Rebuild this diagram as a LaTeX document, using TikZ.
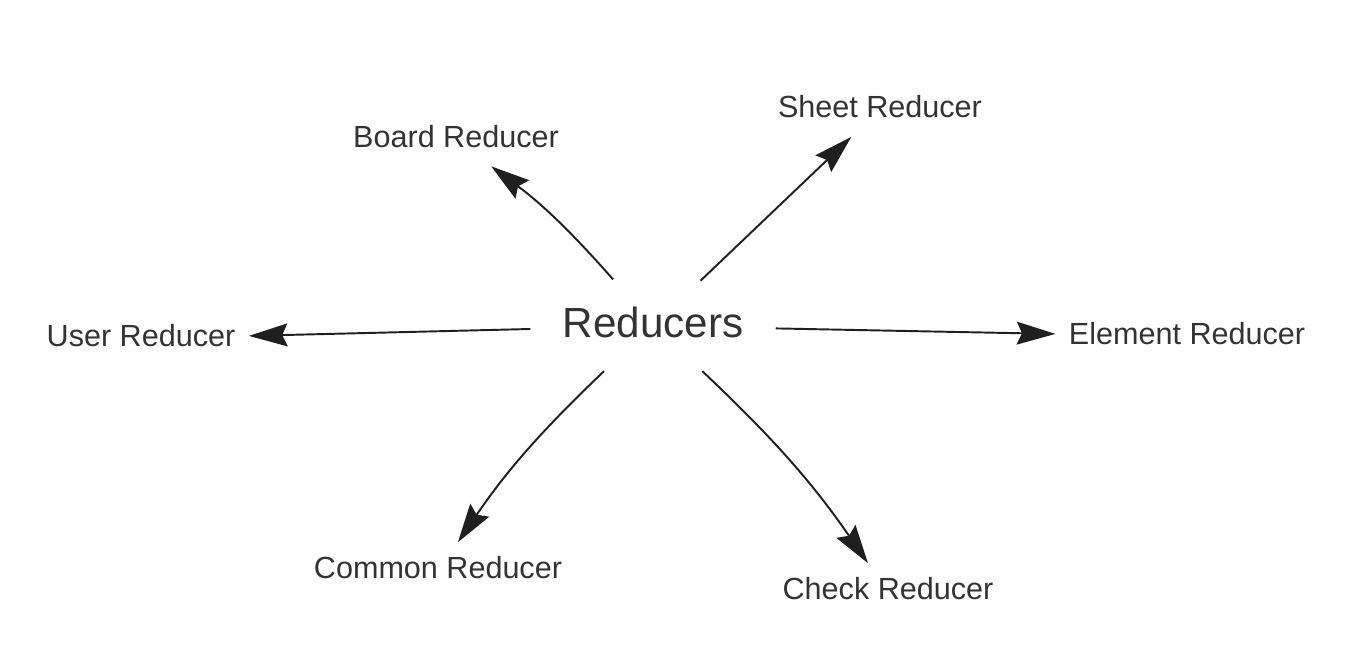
\documentclass[tikz,border=0pt]{standalone}
\usepackage{fontspec}
\setmainfont{Liberation Sans}
\usetikzlibrary{arrows.meta,shapes.geometric}
\definecolor{txtgray}{HTML}{333333}
\definecolor{linegray}{HTML}{1F1F1F}

\begin{document}
\begin{tikzpicture}[x=0.02cm,y=-0.02cm]

      \useasboundingbox (0,0) rectangle (1350,666);

      \node[ellipse,minimum width=139.5pt,minimum height=55.6pt,inner sep=0pt,
            label={[text=txtgray,font=\fontsize{24}{28}\selectfont,yshift=2pt]center:Reducers}]
            (0) at (653,326) {};

      \begin{scope}[every node/.style={text=txtgray,font=\fontsize{17.4}{21}\selectfont,
          text height=12.5pt,text depth=3.5pt,inner xsep=4pt,inner ysep=5pt}]
        \node (1) at (456,139.5)  {Board Reducer};
        \node (2) at (880,109.5)  {Sheet Reducer};
        \node (3) at (141,338.5)  {User Reducer};
        \node (4) at (1187,336.5) {Element Reducer};
        \node (5) at (438,570.5)  {Common Reducer};
        \node (6) at (888,591.5)  {Check Reducer};
      \end{scope}

      \begin{scope}[every edge/.style={draw=linegray,line width=1.1pt,
          -{Stealth[length=22pt,width=13pt,inset=3pt,sep=3.5pt]}}]
        \path (0) edge[bend right=6] (1);
        \path (0) edge (2);
        \path (0) edge (3);
        \path (0) edge (4);
        \path (0) edge[bend right=6] (5);
        \path (0) edge[bend left=6] (6);
      \end{scope}

    \end{tikzpicture}
\end{document}
